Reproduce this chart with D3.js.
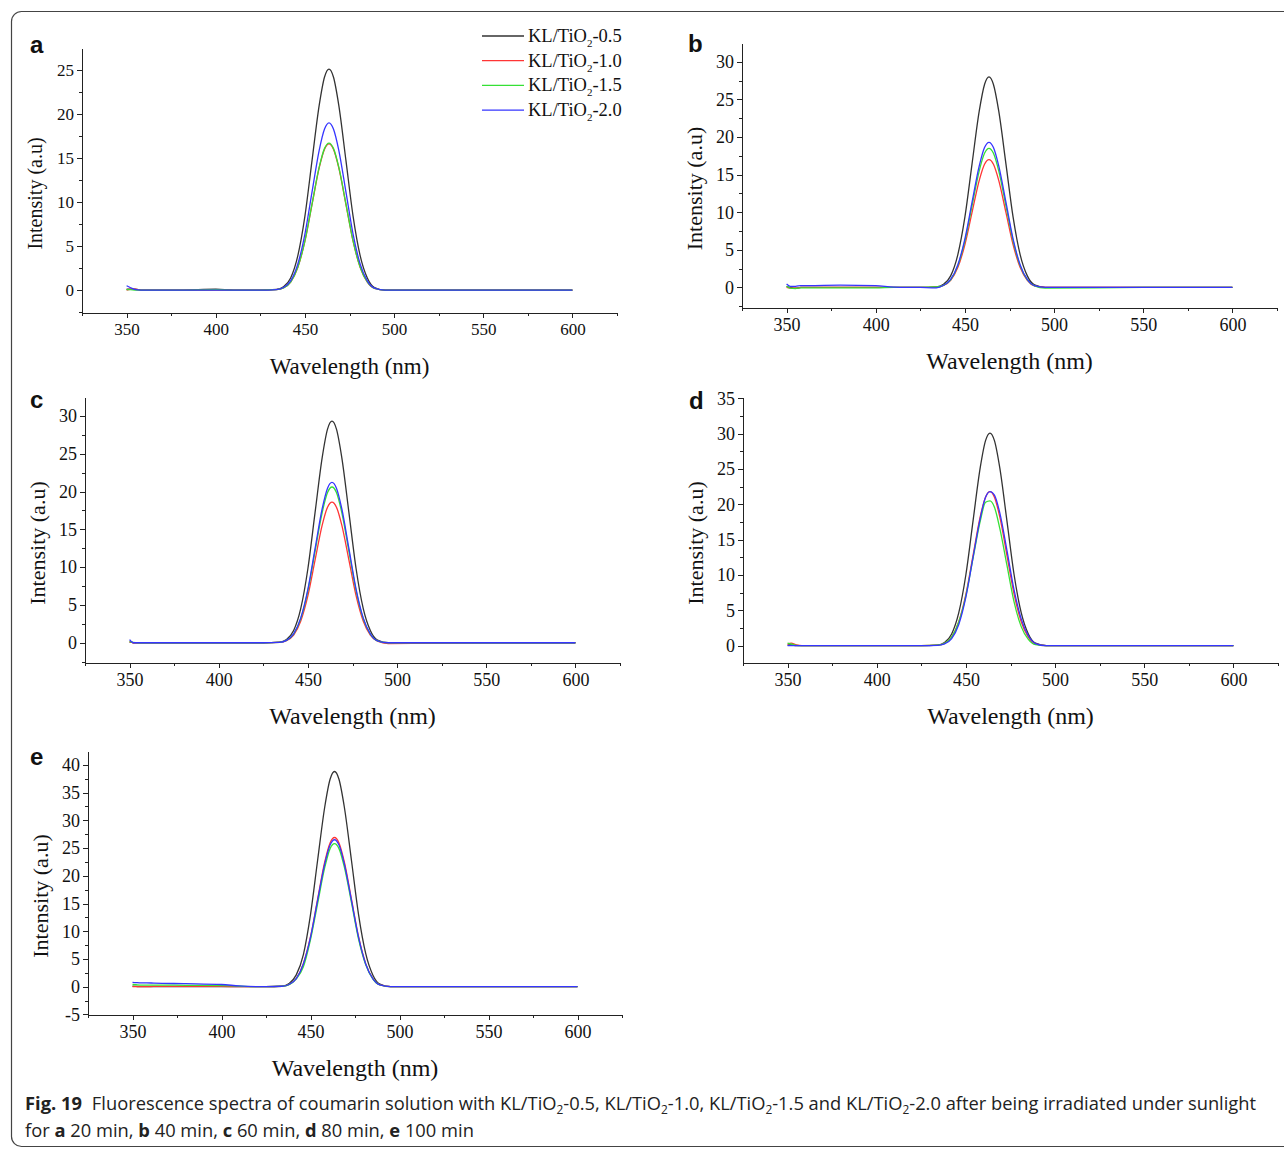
<!DOCTYPE html>
<html>
<head>
<meta charset="utf-8">
<script src="https://cdn.jsdelivr.net/npm/d3@7"></script>
<style>
  body { margin: 0; background: #fff; }
  .axis path, .axis line { stroke: #222; stroke-width: 1; shape-rendering: crispEdges; }
  .axis text { font-family: "Liberation Serif", "Times New Roman", serif; fill: #111; }
  .title { font-family: "Liberation Serif", "Times New Roman", serif; fill: #111; }
  .letter { font-family: "Liberation Sans", Arial, sans-serif; font-weight: bold; fill: #111; }
  .caption { font-family: "Open Sans", "Noto Sans", sans-serif; font-size: 18.5px; fill: #222; }
</style>
</head>
<body>
<svg id="fig" width="1284" height="1149"></svg>
<script>
// wavelength grid (nm) shared by every spectrum
const wavelength = [350, 352, 355, 358, 362, 380, 400, 410, 425,
  434, 438, 442, 446, 450, 454, 458, 461, 463.5, 466, 469, 473, 477, 481, 485, 489,
  495, 550, 600];

const seriesLabels = ["0.5", "1.0", "1.5", "2.0"];
const xTicks = [350, 400, 450, 500, 550, 600];

// a: 20 min
const a05 = [0.1, 0.1, 0.1, 0, 0, 0, 0.1, 0, 0, 0.08, 0.38, 1.38, 3.89, 8.41, 14.73, 20.98, 24.2, 25.1, 24.2, 20.98, 14.73, 8.41, 3.89, 1.38, 0.3, 0, 0, 0];
const a10 = [0, 0.1, 0.1, 0, 0, 0, 0, 0, 0, 0.05, 0.25, 0.91, 2.57, 5.56, 9.74, 13.88, 16.0, 16.6, 16.0, 13.88, 9.74, 5.56, 2.57, 0.91, 0.2, 0, 0, 0];
const a15 = [0.05, 0.05, 0, 0, 0, 0, 0.05, 0, 0, 0.05, 0.25, 0.92, 2.59, 5.59, 9.8, 13.96, 16.1, 16.7, 16.1, 13.96, 9.8, 5.59, 2.59, 0.92, 0.2, 0, 0, 0];
const a20 = [0.5, 0.3, 0.05, 0, 0, 0, 0, 0, 0, 0.06, 0.29, 1.05, 2.95, 6.37, 11.15, 15.88, 18.3, 19.0, 18.3, 15.88, 11.15, 6.37, 2.95, 1.05, 0.23, 0, 0, 0];
// b: 40 min
const b05 = [0.1, 0, -0.1, 0, 0, 0, 0, 0, 0, 0.08, 0.42, 1.54, 4.34, 9.38, 16.44, 23.41, 26.99, 28.0, 26.99, 23.41, 16.44, 9.38, 4.34, 1.54, 0.34, 0, 0, 0];
const b10 = [0, -0.1, -0.1, 0, 0, 0, 0, 0, 0, 0.05, 0.26, 0.94, 2.64, 5.7, 9.98, 14.21, 16.39, 17.0, 16.39, 14.21, 9.98, 5.7, 2.64, 0.94, 0.2, 0, 0, 0];
const b15 = [0.2, -0.1, -0.15, -0.05, -0.05, -0.05, -0.05, 0, 0, 0.06, 0.28, 1.02, 2.87, 6.2, 10.86, 15.47, 17.83, 18.5, 17.83, 15.47, 10.86, 6.2, 2.87, 1.02, 0.22, -0.1, 0, 0];
const b20 = [0.45, 0.15, 0.15, 0.25, 0.25, 0.3, 0.25, 0.05, 0, -0.05, 0.29, 1.06, 2.99, 6.47, 11.33, 16.13, 18.61, 19.3, 18.61, 16.13, 11.33, 6.47, 2.99, 1.06, 0.23, 0, 0, 0];
// c: 60 min
const c05 = [0.1, 0, 0, 0, 0, 0, 0, 0, 0, 0.09, 0.44, 1.61, 4.54, 9.82, 17.2, 24.49, 28.25, 29.3, 28.25, 24.49, 17.2, 9.82, 4.54, 1.61, 0.35, 0, 0, 0];
const c10 = [0.1, 0, 0, 0, 0, 0, 0, 0, 0, 0.06, 0.28, 1.02, 2.88, 6.23, 10.92, 15.55, 17.93, 18.6, 17.93, 15.55, 10.92, 6.23, 2.88, 1.02, 0.22, -0.1, 0, 0];
const c15 = [0.15, 0.05, 0, 0, 0, 0, 0, 0, 0, 0.06, 0.31, 1.13, 3.19, 6.9, 12.09, 17.22, 19.86, 20.6, 19.86, 17.22, 12.09, 6.9, 3.19, 1.13, 0.25, 0, 0, 0];
const c20 = [0.4, 0, 0, 0, 0, 0, 0, 0, 0, 0.06, 0.32, 1.17, 3.29, 7.1, 12.44, 17.72, 20.44, 21.2, 20.44, 17.72, 12.44, 7.1, 3.29, 1.17, 0.25, 0, 0, 0];
// d: 80 min
const d05 = [0.1, 0.1, 0, 0, 0, 0, 0, 0, 0, 0.09, 0.45, 1.66, 4.67, 10.08, 17.67, 25.16, 29.02, 30.1, 29.02, 25.16, 17.67, 10.08, 4.67, 1.66, 0.36, 0, 0, 0];
const d10 = [0.2, 0.35, 0.1, 0, 0, 0, 0, 0, 0, 0.07, 0.33, 1.2, 3.38, 7.3, 12.8, 18.22, 21.02, 21.8, 21.02, 18.22, 12.8, 7.3, 3.38, 1.2, 0.26, 0, 0, 0];
const d15 = [0.35, 0.25, 0.05, 0, 0, 0, 0, 0, 0, 0.07, 0.33, 1.2, 3.35, 7.1, 12.4, 17.6, 20.3, 20.5, 19.6, 16.6, 11.4, 6.2, 2.7, 0.9, 0.15, 0, 0, 0];
const d20 = [0, 0, 0, 0, 0, 0, 0, 0, 0, 0.05, 0.25, 1.0, 3.0, 6.9, 12.5, 18.0, 21.0, 21.8, 21.3, 18.8, 13.5, 7.9, 3.8, 1.4, 0.3, 0, 0, 0];
// e: 100 min
const e05 = [0.1, 0.05, 0, 0, 0, 0, 0, 0, 0, 0.12, 0.58, 2.13, 5.8, 13.0, 22.8, 32.4, 37.4, 38.8, 37.4, 32.4, 22.8, 13.0, 6.0, 2.13, 0.47, 0, 0, 0];
const e10 = [0, 0, 0, 0, 0.05, 0.05, 0.05, 0, 0, 0.08, 0.4, 1.48, 4.17, 9.01, 15.79, 22.49, 25.93, 26.9, 25.93, 22.49, 15.79, 9.01, 4.17, 1.48, 0.32, 0, 0, 0];
const e15 = [0.4, 0.35, 0.3, 0.3, 0.3, 0.25, 0.2, 0.1, 0, 0.08, 0.39, 1.42, 3.6, 8.5, 15.0, 21.5, 24.9, 25.8, 24.9, 21.6, 15.2, 8.6, 4.0, 1.42, 0.31, 0, 0, 0];
const e20 = [0.8, 0.75, 0.7, 0.7, 0.65, 0.55, 0.4, 0.15, 0, 0.08, 0.4, 1.46, 4.11, 8.88, 15.56, 22.15, 25.55, 26.5, 25.55, 22.15, 15.56, 8.88, 4.11, 1.46, 0.32, 0, 0, 0];

const colors = ["#333333", "#ff3535", "#35e035", "#3535ff"];

const panels = [
  { letter: "a", lx: 30, ly: 53, box: [82, 48, 617, 313], yDomain: [-2.6, 27.5], yMin: 0, yMax: 25, step: 5, fs: 17, xfs: 23, yfs: 20, series: [a05, a10, a15, a20] },
  { letter: "b", lx: 688, ly: 52, box: [742, 43, 1277, 308], yDomain: [-2.73, 32.5], yMin: 0, yMax: 30, step: 5, fs: 18, xfs: 24, yfs: 22, series: [b05, b10, b15, b20] },
  { letter: "c", lx: 30, ly: 408, box: [85, 397, 620, 663], yDomain: [-2.68, 32.5], yMin: 0, yMax: 30, step: 5, fs: 18, xfs: 24, yfs: 22, series: [c05, c10, c15, c20] },
  { letter: "d", lx: 689, ly: 409, box: [743, 397, 1278, 663], yDomain: [-2.45, 35.2], yMin: 0, yMax: 35, step: 5, fs: 18, xfs: 24, yfs: 22, series: [d05, d10, d15, d20] },
  { letter: "e", lx: 30, ly: 765, box: [88, 751, 622, 1015], yDomain: [-5.1, 42.5], yMin: -5, yMax: 40, step: 5, fs: 18, xfs: 24, yfs: 22, series: [e05, e10, e15, e20] }
];

const svg = d3.select("#fig");

// rounded frame around the figure
svg.append("rect")
  .attr("x", 11.5).attr("y", 11.5)
  .attr("width", 1300).attr("height", 1135)
  .attr("rx", 10)
  .attr("fill", "none").attr("stroke", "#444").attr("stroke-width", 1.2);

panels.forEach(p => {
  const [left, top, right, bottom] = p.box;
  const g = svg.append("g");

  const x = d3.scaleLinear().domain([325, 625]).range([left, right]);
  const y = d3.scaleLinear().domain(p.yDomain).range([bottom, top]);

  const yMajor = d3.range(p.yMin, p.yMax + 0.01, p.step);
  const yMinor = d3.range(p.yMin - p.step / 2, p.yMax + p.step, p.step)
      .filter(v => v > p.yDomain[0] && v < p.yDomain[1]);
  const xMinor = d3.range(325, 626, 50);

  // minor ticks first
  g.append("g").attr("class", "axis").attr("transform", `translate(0,${bottom})`)
    .call(d3.axisBottom(x).tickValues(xMinor).tickSize(3).tickFormat(""))
    .call(a => a.select(".domain").remove());
  g.append("g").attr("class", "axis").attr("transform", `translate(${left},0)`)
    .call(d3.axisLeft(y).tickValues(yMinor).tickSize(3).tickFormat(""))
    .call(a => a.select(".domain").remove());

  g.append("g").attr("class", "axis").attr("transform", `translate(0,${bottom})`)
    .call(d3.axisBottom(x).tickValues(xTicks).tickSize(5).tickSizeOuter(0).tickPadding(5).tickFormat(d => String(d)))
    .selectAll("text").style("font-size", p.fs + "px");
  g.append("g").attr("class", "axis").attr("transform", `translate(${left},0)`)
    .call(d3.axisLeft(y).tickValues(yMajor).tickSize(5).tickSizeOuter(0).tickPadding(3).tickFormat(d => String(d)))
    .selectAll("text").style("font-size", p.fs + "px");

  const line = d3.line()
    .x((d, i) => x(wavelength[i]))
    .y(d => y(d))
    .curve(d3.curveMonotoneX);

  p.series.forEach((s, k) => {
    g.append("path")
      .datum(s)
      .attr("d", line)
      .attr("fill", "none")
      .attr("stroke", colors[k])
      .attr("stroke-width", 1.3);
  });

  g.append("text").attr("class", "title")
    .attr("x", (left + right) / 2).attr("y", bottom + 61)
    .attr("text-anchor", "middle")
    .style("font-size", p.xfs + "px")
    .text("Wavelength (nm)");

  g.append("text").attr("class", "title")
    .attr("transform", `translate(${left - 40},${(top + bottom) / 2 + 13}) rotate(-90)`)
    .attr("text-anchor", "middle")
    .style("font-size", p.yfs + "px")
    .text("Intensity (a.u)");

  g.append("text").attr("class", "letter")
    .attr("x", p.lx).attr("y", p.ly)
    .style("font-size", "24px")
    .text(p.letter);
});

// legend (panel a)
const legend = svg.append("g").attr("transform", "translate(482,36)");
seriesLabels.forEach((lab, k) => {
  const row = legend.append("g").attr("transform", `translate(0,${k * 24.7})`);
  row.append("line").attr("x1", 0).attr("x2", 42).attr("y1", 0).attr("y2", 0)
    .attr("stroke", colors[k]).attr("stroke-width", 1.3);
  const t = row.append("text").attr("class", "title").attr("x", 46).attr("y", 6).style("font-size", "18.5px");
  t.append("tspan").text("KL/TiO");
  t.append("tspan").attr("dy", 5).style("font-size", "11px").text("2");
  t.append("tspan").attr("dy", -5).text("-" + lab);
});

// caption
function addRuns(text, runs) {
  let shift = 0;
  runs.forEach(r => {
    const ts = text.append("tspan").text(r.t);
    if (r.b) ts.style("font-weight", "bold");
    if (r.dx) ts.attr("dx", r.dx);
    if (r.sub) { ts.attr("dy", 4 - shift).style("font-size", "12px"); shift = 4; }
    else if (shift) { ts.attr("dy", -shift); shift = 0; }
  });
}
const cap = svg.append("g").attr("class", "caption");
const line1 = cap.append("text").attr("x", 0).attr("y", 1110);
addRuns(line1, [
  { t: "Fig. 19", b: true },
  { t: "Fluorescence spectra of coumarin solution with KL/TiO", dx: 10 },
  { t: "2", sub: true }, { t: "-0.5, KL/TiO" },
  { t: "2", sub: true }, { t: "-1.0, KL/TiO" },
  { t: "2", sub: true }, { t: "-1.5 and KL/TiO" },
  { t: "2", sub: true }, { t: "-2.0 after being irradiated under sunlight" }
]);
const line2 = cap.append("text").attr("x", 0).attr("y", 1137);
addRuns(line2, [
  { t: "for " }, { t: "a", b: true }, { t: " 20 min, " },
  { t: "b", b: true }, { t: " 40 min, " },
  { t: "c", b: true }, { t: " 60 min, " },
  { t: "d", b: true }, { t: " 80 min, " },
  { t: "e", b: true }, { t: " 100 min" }
]);
const w1 = line1.node().getBBox().width;
cap.attr("transform", `translate(25,0) scale(${1232 / w1},1)`);
</script>
</body>
</html>
